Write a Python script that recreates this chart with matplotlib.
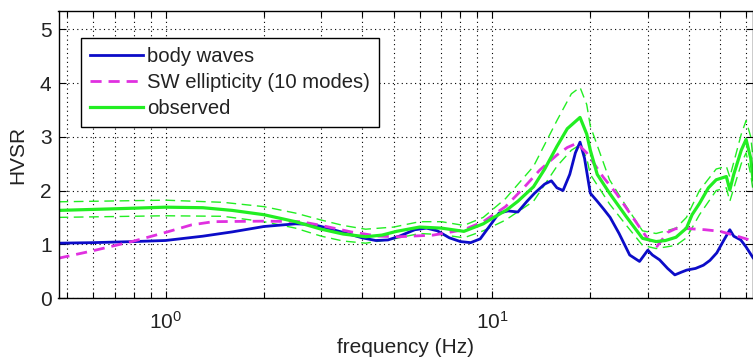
import numpy as np
import matplotlib
matplotlib.use('Agg')
import matplotlib.pyplot as plt
from matplotlib.ticker import LogLocator, NullFormatter

plt.rcParams['font.family'] = ['Liberation Sans', 'DejaVu Sans']
plt.rcParams['mathtext.fontset'] = 'custom'
plt.rcParams['mathtext.rm'] = 'Liberation Sans'

# body waves
f_body = [0.47, 0.6, 0.8, 1.0, 1.3, 1.6, 2.0, 2.5, 2.8, 3.0, 3.5, 4.0, 4.4, 4.8,
          5.2, 5.8, 6.3, 6.8, 7.4, 8.0, 8.6, 9.2, 10.0, 10.5, 11.2, 12.0, 12.8,
          13.5, 14.5, 15.2, 15.8, 16.5, 17.3, 18.0, 18.6, 19.2, 20.0, 21.0,
          22.0, 23.0, 24.5, 26.4, 28.3, 30.0, 31.0, 32.6, 34.5, 36.3, 38.0,
          39.5, 42.0, 44.4, 46.5, 48.8, 51.0, 53.5, 55.0, 57.8, 60.0, 63.0]
hv_body = [1.02, 1.03, 1.05, 1.07, 1.15, 1.23, 1.33, 1.38, 1.37, 1.33, 1.22,
           1.12, 1.07, 1.08, 1.15, 1.27, 1.30, 1.25, 1.12, 1.05, 1.03, 1.10,
           1.40, 1.58, 1.62, 1.60, 1.80, 1.95, 2.12, 2.18, 2.05, 2.00, 2.30,
           2.70, 2.90, 2.60, 1.95, 1.80, 1.65, 1.50, 1.20, 0.80, 0.68, 0.89,
           0.80, 0.71, 0.55, 0.43, 0.48, 0.52, 0.55, 0.61, 0.70, 0.84, 1.05,
           1.27, 1.15, 1.08, 0.95, 0.75]

# SW ellipticity (10 modes)
f_sw = [0.47, 0.6, 0.8, 1.0, 1.2, 1.4, 2.0, 2.6, 3.0, 3.7, 4.5, 5.2, 6.6, 8.2,
        9.4, 11.0, 12.5, 14.0, 15.8, 17.0, 18.2, 19.5, 21.9, 24.0, 27.7, 30.0,
        32.0, 34.5, 36.5, 40.0, 45.0, 50.0, 55.0, 60.0, 63.0]
hv_sw = [0.74, 0.88, 1.06, 1.22, 1.36, 1.42, 1.43, 1.42, 1.35, 1.23, 1.15,
         1.14, 1.17, 1.27, 1.42, 1.70, 2.05, 2.38, 2.66, 2.80, 2.88, 2.70,
         2.25, 1.95, 1.40, 1.10, 0.96, 1.22, 1.29, 1.29, 1.27, 1.24, 1.17,
         1.10, 1.06]

# observed
f_obs = [0.47, 0.7, 1.0, 1.3, 1.6, 2.0, 2.5, 3.0, 3.5, 4.1, 4.6, 5.1, 6.0, 7.0,
         8.2, 9.4, 10.0, 11.1, 12.0, 13.4, 14.5, 15.8, 17.0, 18.6, 19.5, 20.0,
         21.0, 22.9, 25.8, 28.9, 31.8, 34.0, 36.6, 39.4, 41.0, 43.2, 46.0,
         48.6, 52.2, 53.5, 55.0, 58.0, 60.0, 62.0, 63.0]
hv_obs = [1.63, 1.66, 1.69, 1.68, 1.63, 1.55, 1.42, 1.28, 1.19, 1.14, 1.17,
          1.24, 1.32, 1.30, 1.24, 1.38, 1.48, 1.64, 1.80, 2.07, 2.40, 2.82,
          3.15, 3.36, 3.05, 2.75, 2.30, 1.95, 1.51, 1.11, 1.05, 1.07, 1.13,
          1.30, 1.55, 1.76, 2.05, 2.20, 2.26, 2.01, 2.30, 2.75, 2.95, 2.60,
          2.20]

# observed +/- one std
f_band = [0.47, 1.0, 1.5, 2.0, 2.5, 3.0, 3.5, 4.1, 5.0, 6.0, 7.0, 8.2, 9.4,
          11.0, 13.4, 15.8, 17.5, 18.6, 19.5, 20.0, 22.9, 25.8, 28.9, 31.8,
          36.6, 39.4, 43.2, 48.6, 52.2, 53.5, 58.0, 60.0, 62.0, 63.0]
hv_upper = [1.79, 1.82, 1.78, 1.70, 1.58, 1.45, 1.35, 1.28, 1.32, 1.42, 1.42,
            1.35, 1.50, 1.85, 2.45, 3.30, 3.80, 3.92, 3.60, 3.20, 2.20, 1.70,
            1.25, 1.20, 1.30, 1.50, 2.00, 2.40, 2.45, 2.25, 3.05, 3.30, 3.00,
            2.60]
hv_lower = [1.50, 1.53, 1.52, 1.42, 1.30, 1.15, 1.06, 1.02, 1.10, 1.20, 1.18,
            1.12, 1.25, 1.45, 1.80, 2.45, 2.75, 2.85, 2.60, 2.30, 1.75, 1.35,
            0.98, 0.92, 0.98, 1.12, 1.55, 2.00, 2.05, 1.80, 2.50, 2.70, 2.30,
            2.00]

blue = '#0c0cc8'
magenta = '#e030e0'
green = '#22ee22'
txt = '#222222'
fs = 15

fig = plt.figure(figsize=(7.53, 3.59), dpi=100)
ax = fig.add_axes([58.5 / 753, 61 / 359, (753 - 58.5) / 753, 287 / 359])

ax.semilogx(f_band, hv_upper, color=green, lw=1.0, ls=(0, (7, 4)))
ax.semilogx(f_band, hv_lower, color=green, lw=1.0, ls=(0, (7, 4)))
l1, = ax.semilogx(f_body, hv_body, color=blue, lw=2.0, label='body waves')
l2, = ax.semilogx(f_sw, hv_sw, color=magenta, lw=2.0, ls=(0, (4, 2.5)),
                  label='SW ellipticity (10 modes)')
l3, = ax.semilogx(f_obs, hv_obs, color=green, lw=2.3, label='observed')

ax.set_xlim(0.47, 63)
ax.set_ylim(0, 5.34)
ax.set_yticks([0, 1, 2, 3, 4, 5])
ax.xaxis.set_major_locator(LogLocator(base=10, numticks=10))
ax.xaxis.set_minor_locator(LogLocator(base=10, subs=np.arange(2, 10), numticks=20))
ax.xaxis.set_minor_formatter(NullFormatter())

ax.grid(True, which='both', axis='x', color='black', lw=0.8, ls=(0, (1, 3)))
ax.grid(True, which='major', axis='y', color='black', lw=0.8, ls=(0, (1, 3)))

ax.tick_params(which='both', direction='in', top=True, right=True,
               colors='black', labelcolor=txt, labelsize=fs)
ax.tick_params(which='major', length=5, width=0.8, pad=5)
ax.tick_params(axis='x', which='major', pad=9)
ax.tick_params(which='minor', length=4, width=0.8)
for s in ax.spines.values():
    s.set_linewidth(1.0)

ax.set_xlabel('frequency (Hz)', fontsize=fs, color=txt, labelpad=4)
ax.set_ylabel('HVSR', fontsize=fs, color=txt, labelpad=9)

leg = ax.legend(handles=[l1, l2, l3], loc='upper left',
                bbox_to_anchor=(22.5 / 694.5, 1 - 27 / 287),
                fontsize=14.6, frameon=True, fancybox=False, framealpha=1,
                edgecolor='black', handlelength=2.6, handletextpad=0.2,
                labelspacing=0.35, borderpad=0.45, borderaxespad=0)
leg.get_frame().set_linewidth(1.0)
for t in leg.get_texts():
    t.set_color(txt)

fig.savefig('out.png', dpi=100)
